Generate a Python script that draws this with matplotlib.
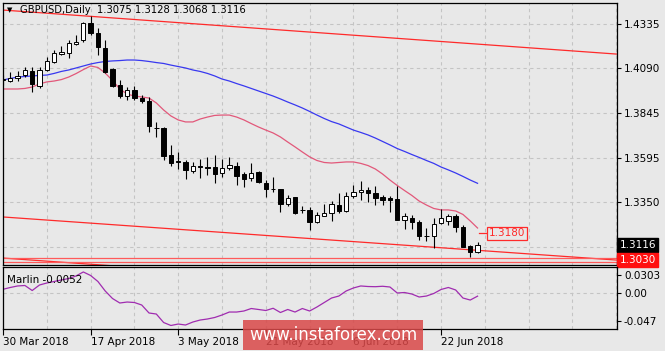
import matplotlib
matplotlib.use('Agg')
import matplotlib.pyplot as plt
import numpy as np

# GBPUSD daily, 30 Mar 2018 .. 29 Jun 2018 (bar index 0..65)
opens = [1.4026, 1.4020, 1.4035, 1.4056, 1.4075, 1.3993, 1.4081, 1.4127, 1.4172, 1.4173,
         1.4223, 1.4244, 1.4339, 1.4288, 1.4201, 1.4084, 1.3998, 1.3939, 1.3970, 1.3924,
         1.3911, 1.3763, 1.3759, 1.3610, 1.3577, 1.3574, 1.3525, 1.3549, 1.3546, 1.3546,
         1.3510, 1.3539, 1.3553, 1.3505, 1.3483, 1.3519, 1.3459, 1.3424, 1.3421, 1.3339,
         1.3377, 1.3310, 1.3308, 1.3243, 1.3277, 1.3289, 1.3335, 1.3302, 1.3383, 1.3405,
         1.3418, 1.3401, 1.3377, 1.3372, 1.3367, 1.3252, 1.3262, 1.3243, 1.3166, 1.3166,
         1.3234, 1.3248, 1.3276, 1.3215, 1.3109, 1.3075]
highs = [1.4053, 1.4070, 1.4075, 1.4097, 1.4095, 1.4097, 1.4155, 1.4191, 1.4214, 1.4247,
         1.4272, 1.4346, 1.4379, 1.4311, 1.4247, 1.4090, 1.4026, 1.3989, 1.3993, 1.3943,
         1.3933, 1.3791, 1.3768, 1.3667, 1.3628, 1.3586, 1.3574, 1.3587, 1.3599, 1.3614,
         1.3591, 1.3602, 1.3570, 1.3519, 1.3565, 1.3523, 1.3473, 1.3488, 1.3426, 1.3390,
         1.3381, 1.3327, 1.3326, 1.3298, 1.3338, 1.3360, 1.3400, 1.3409, 1.3443, 1.3468,
         1.3435, 1.3439, 1.3390, 1.3385, 1.3440, 1.3292, 1.3280, 1.3252, 1.3206, 1.3265,
         1.3311, 1.3284, 1.3284, 1.3224, 1.3114, 1.3128]
lows = [1.3998, 1.4015, 1.4020, 1.4042, 1.3962, 1.3984, 1.4075, 1.4120, 1.4161, 1.4146,
        1.4219, 1.4236, 1.4274, 1.4166, 1.4064, 1.3985, 1.3924, 1.3915, 1.3915, 1.3897,
        1.3740, 1.3709, 1.3582, 1.3549, 1.3532, 1.3479, 1.3510, 1.3482, 1.3501, 1.3455,
        1.3492, 1.3529, 1.3446, 1.3437, 1.3468, 1.3455, 1.3382, 1.3409, 1.3298, 1.3330,
        1.3288, 1.3289, 1.3197, 1.3234, 1.3274, 1.3247, 1.3289, 1.3298, 1.3374, 1.3363,
        1.3350, 1.3335, 1.3335, 1.3298, 1.3250, 1.3203, 1.3203, 1.3142, 1.3138, 1.3099,
        1.3230, 1.3225, 1.3184, 1.3101, 1.3050, 1.3068]
closes = [1.4031, 1.4039, 1.4049, 1.4081, 1.4004, 1.4081, 1.4131, 1.4173, 1.4178, 1.4228,
          1.4236, 1.4339, 1.4284, 1.4208, 1.4071, 1.3993, 1.3937, 1.3970, 1.3924, 1.3910,
          1.3773, 1.3758, 1.3606, 1.3566, 1.3571, 1.3526, 1.3552, 1.3546, 1.3542, 1.3509,
          1.3538, 1.3554, 1.3495, 1.3479, 1.3512, 1.3464, 1.3421, 1.3422, 1.3338, 1.3376,
          1.3289, 1.3308, 1.3243, 1.3280, 1.3291, 1.3342, 1.3300, 1.3386, 1.3408, 1.3418,
          1.3400, 1.3374, 1.3363, 1.3363, 1.3252, 1.3274, 1.3240, 1.3166, 1.3162, 1.3229,
          1.3262, 1.3276, 1.3215, 1.3105, 1.3074, 1.3116]

ma_fast = [1.3976, 1.3976, 1.3976, 1.3979, 1.3987, 1.4004, 1.4015, 1.4020, 1.4028, 1.4042,
           1.4061, 1.4083, 1.4103, 1.4095, 1.4064, 1.4023, 1.3976, 1.3948, 1.3937, 1.3932,
           1.3926, 1.3899, 1.3860, 1.3827, 1.3805, 1.3794, 1.3794, 1.3810, 1.3821, 1.3830,
           1.3832, 1.3832, 1.3821, 1.3805, 1.3785, 1.3766, 1.3749, 1.3733, 1.3711, 1.3683,
           1.3656, 1.3628, 1.3601, 1.3581, 1.3570, 1.3567, 1.3570, 1.3573, 1.3573, 1.3565,
           1.3553, 1.3534, 1.3506, 1.3473, 1.3443, 1.3415, 1.3388, 1.3357, 1.3335, 1.3316,
           1.3308, 1.3308, 1.3302, 1.3283, 1.3247, 1.3208]
ma_slow = [1.4026, 1.4034, 1.4042, 1.4045, 1.4048, 1.4051, 1.4053, 1.4062, 1.4073, 1.4081,
           1.4092, 1.4103, 1.4114, 1.4122, 1.4128, 1.4131, 1.4133, 1.4136, 1.4136, 1.4133,
           1.4128, 1.4122, 1.4117, 1.4108, 1.4100, 1.4092, 1.4081, 1.4073, 1.4062, 1.4048,
           1.4031, 1.4020, 1.4006, 1.3993, 1.3979, 1.3965, 1.3951, 1.3937, 1.3921, 1.3904,
           1.3888, 1.3871, 1.3852, 1.3832, 1.3813, 1.3796, 1.3783, 1.3766, 1.3749, 1.3736,
           1.3722, 1.3705, 1.3686, 1.3667, 1.3647, 1.3631, 1.3614, 1.3598, 1.3581, 1.3565,
           1.3545, 1.3529, 1.3512, 1.3493, 1.3473, 1.3455]

marlin = [0.0061, 0.0091, 0.0116, 0.0124, 0.0041, 0.0132, 0.0165, 0.0190, 0.0215, 0.0239,
          0.0281, 0.0347, 0.0289, 0.0190, 0.0033, -0.0091, -0.0165, -0.0149, -0.0157, -0.0198,
          -0.0330, -0.0347, -0.0487, -0.0536, -0.0512, -0.0528, -0.0479, -0.0446, -0.0429, -0.0404,
          -0.0363, -0.0314, -0.0314, -0.0297, -0.0256, -0.0272, -0.0289, -0.0252, -0.0322, -0.0272,
          -0.0314, -0.0256, -0.0297, -0.0231, -0.0157, -0.0083, -0.0050, 0.0033, 0.0083, 0.0116,
          0.0107, 0.0104, 0.0111, 0.0099, 0.0000, 0.0008, -0.0017, -0.0066, -0.0050, -0.0008,
          0.0058, 0.0091, 0.0050, -0.0083, -0.0116, -0.0052]

# channel lines, anchored at bar 0 and bar 84
channel_bars = [0, 84]
channel_top = [1.4412, 1.4169]
channel_bottom = [1.3269, 1.3031]
channel_lower2 = [1.3042, 1.2804]
levels_bottom = [1.3044, 1.3022]

price_ticks = [1.4335, 1.4090, 1.3845, 1.3595, 1.3350]
marlin_ticks = [0.0303, 0.00, -0.047]
marlin_tick_labels = ['0.0303', '0.00', '-0.047']
date_bars = [0, 12, 24, 36, 48, 60]
date_labels = ['30 Mar 2018', '17 Apr 2018', '3 May 2018', '21 May 2018', '6 Jun 2018', '22 Jun 2018']

title_text = 'GBPUSD,Daily  1.3075 1.3128 1.3068 1.3116'
bid_price = 1.3116
channel_end_price = 1.3030
level_label = 1.3180

BG = '#e8e8e8'
GRID = '#c4c4c4'
FONT = 'DejaVu Sans'
plt.rcParams['font.family'] = FONT

fig = plt.figure(figsize=(6.65, 3.51), dpi=100, facecolor=BG)
W, H = 665.0, 351.0
ax = fig.add_axes([3 / W, 1 - 265 / H, 614 / W, 262 / H], facecolor=BG)
ax2 = fig.add_axes([3 / W, 1 - 329 / H, 614 / W, 62 / H], facecolor=BG, sharex=ax)

x = np.arange(len(opens))
o = np.array(opens); c = np.array(closes)
h = np.array(highs); l = np.array(lows)

# grid
for gx in range(6, 85, 6):
    ax.axvline(gx, color=GRID, lw=0.8, ls=(0, (3, 3)), zorder=0)
    ax2.axvline(gx, color=GRID, lw=0.8, ls=(0, (3, 3)), zorder=0)
for gy in price_ticks + [1.3105]:
    ax.axhline(gy, color=GRID, lw=0.8, ls=(0, (3, 3)), zorder=0)
ax2.axhline(0, color=GRID, lw=0.8, ls=(0, (3, 3)), zorder=0)

# candles
ax.vlines(x, l, h, color='black', lw=0.8, zorder=3)
up = c >= o
body_w = 0.6
ax.bar(x[up], np.maximum(c[up] - o[up], 0.00005), bottom=o[up], width=body_w,
       color='white', edgecolor='black', lw=0.7, zorder=4)
ax.bar(x[~up], np.maximum(o[~up] - c[~up], 0.00005), bottom=c[~up], width=body_w,
       color='black', edgecolor='black', lw=0.7, zorder=4)

# moving averages and channels
ax.plot(x, ma_slow, color='#3838f0', lw=0.9, zorder=2)
ax.plot(x, ma_fast, color='#e2587a', lw=0.9, zorder=2)
ax.plot(channel_bars, channel_top, color='#ff2a2a', lw=0.9, zorder=2)
ax.plot(channel_bars, channel_bottom, color='#ff2a2a', lw=0.9, zorder=2)
ax.plot(channel_bars, channel_lower2, color='#ff2a2a', lw=0.9, zorder=2)
for lv in levels_bottom:
    ax.axhline(lv, color='#ff5a5a', lw=0.9, zorder=2)

ax.set_xlim(0, 84.1)
ax.set_ylim(1.30037, 1.44510)

ax.yaxis.tick_right()
ax.set_yticks(price_ticks)
ax.set_yticklabels(['%.4f' % t for t in price_ticks])
ax.tick_params(axis='y', length=3, width=0.8, labelsize=7.5, pad=2, colors='black')
ax.tick_params(axis='x', bottom=False, labelbottom=False)
for s in ['top', 'bottom', 'left', 'right']:
    ax.spines[s].set_linewidth(0.9)

# price boxes on the axis
ya = ax.get_yaxis_transform()
ax.text(1.004, bid_price, '%.4f' % bid_price, transform=ya, ha='left', va='center',
        fontsize=7.5, color='white', clip_on=False, zorder=10,
        bbox=dict(boxstyle='square,pad=0.2', fc='black', ec='black'))
ax.text(1.004, channel_end_price, '%.4f' % channel_end_price, transform=ya, ha='left', va='center',
        fontsize=7.5, color='white', clip_on=False, zorder=10,
        bbox=dict(boxstyle='square,pad=0.2', fc='#ff1010', ec='#ff1010'))

# level label
ax.plot([65.2, 66.3], [level_label, level_label], color='#ff2a2a', lw=0.9, zorder=5)
ax.text(66.55, level_label, '%.4f' % level_label, ha='left', va='center', fontsize=7.5,
        color='#ff2a2a', zorder=6,
        bbox=dict(boxstyle='square,pad=0.15', fc=BG, ec='#ff2a2a', lw=0.9))

# title
ax.text(0.006, 0.985, '\u25bc', transform=ax.transAxes, fontsize=5, va='top', ha='left')
ax.text(0.028, 0.992, title_text, transform=ax.transAxes, fontsize=7.2, va='top', ha='left')

# Marlin panel
ax2.plot(x, marlin, color='#a02cb0', lw=0.9)
ax2.set_ylim(-0.0594, 0.0429)
ax2.yaxis.tick_right()
ax2.set_yticks(marlin_ticks)
ax2.set_yticklabels(marlin_tick_labels)
ax2.tick_params(axis='y', length=3, width=0.8, labelsize=7.5, pad=2)
ax2.set_xticks(date_bars)
ax2.set_xticklabels(date_labels, ha='left')
ax2.tick_params(axis='x', length=4, width=0.8, labelsize=7.5, pad=2)
ax2.text(0.007, 0.87, 'Marlin %.4f' % marlin[-1], transform=ax2.transAxes, fontsize=7.5,
         va='top', ha='left')
for s in ['top', 'bottom', 'left', 'right']:
    ax2.spines[s].set_linewidth(0.9)

# watermark
fig.text(333 / W, 1 - 335 / H, 'www.instaforex.com', ha='center', va='center', fontsize=12,
         color='white', zorder=20,
         bbox=dict(boxstyle='square,pad=0.35', fc='#d94848', ec='none', alpha=0.85))

fig.savefig('out.png', dpi=100, facecolor=BG)
